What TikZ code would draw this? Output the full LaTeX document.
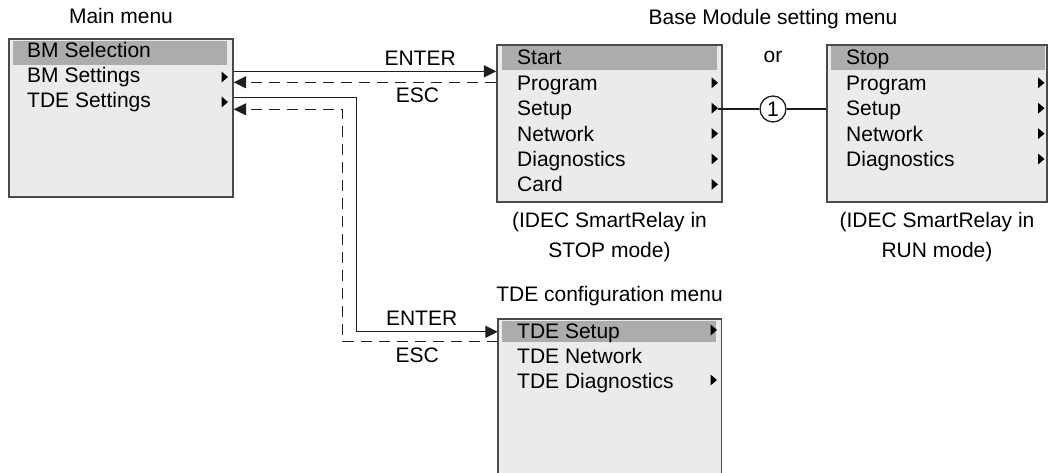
\documentclass[tikz,border=0pt]{standalone}
\usepackage{fontspec}
\setmainfont{Liberation Sans}
\usetikzlibrary{arrows.meta,positioning}

\definecolor{menufill}{HTML}{EBEBED}
\definecolor{menubar}{HTML}{ABACAE}
\definecolor{menuline}{HTML}{4A4A4A}
\definecolor{flowline}{HTML}{1E1E1E}

\tikzset{more/.pic={\fill[black] (-3,-5.5) -- (3.5,0) -- (-3,5.5) -- cycle;}}

\begin{document}
\begin{tikzpicture}[x=1pt, y=-1pt, >={Triangle[length=12.5pt,width=12pt]},
  every node/.style={font=\fontsize{21}{30}\selectfont, inner sep=0pt},
  menubox/.style={fill=menufill, draw=menuline, line width=1.4pt},
  item/.style={anchor=base west},
  flow/.style={draw=flowline, line width=1.3pt, ->},
  back/.style={flow, dash pattern=on 11pt off 7pt}]
  \useasboundingbox (0,0) rectangle (1051,473);

  % menu boxes
  \node[menubox, minimum width=224pt, minimum height=158pt] (mainm) at (121,118) {};
  \node[menubox, minimum width=225pt, minimum height=157pt] (bmm) at (609.5,123.5) {};
  \node[menubox, minimum width=220pt, minimum height=157pt] (runm) at (937,123.5) {};
  \node[fill=menufill, minimum width=223pt, minimum height=154pt] (tdem) at (609.5,396) {};
  \draw[menuline, line width=1.4pt] (tdem.south west) -- (tdem.north west)
    -- (tdem.north east) -- (tdem.south east);

  % selected rows
  \fill[menubar] (13,41) rectangle (227,65);
  \fill[menubar] (502,46) rectangle (717,70);
  \fill[menubar] (831,46) rectangle (1045,70);
  \fill[menubar] (502,321) rectangle (716,342);

  % menu entries
  \foreach \t [count=\i] in {BM Selection, BM Settings, TDE Settings}
    \node[item] (main-\i) at (27,33+25*\i) {\t};
  \foreach \t [count=\i] in {Start, Program, Setup, Network, Diagnostics, Card}
    \node[item] (bm-\i) at (517,39.5+25.4*\i) {\t};
  \foreach \t [count=\i] in {Stop, Program, Setup, Network, Diagnostics}
    \node[item] (run-\i) at (846,39.5+25.4*\i) {\t};
  \foreach \t [count=\i] in {TDE Setup, TDE Network, TDE Diagnostics}
    \node[item] (tde-\i) at (517,313+25*\i) {\t};

  % submenu marks
  \foreach \i in {2,3} \pic at (224.5,27+25*\i) {more};
  \foreach \i in {2,...,6} \pic at (714.5,32+25.4*\i) {more};
  \foreach \i in {2,...,5} \pic at (1041,32+25.4*\i) {more};
  \foreach \i in {1,3} \pic at (713.5,305+25*\i) {more};

  % titles and captions
  \node[above=14pt of mainm] (maintitle) {Main menu};
  \node[anchor=base] (bmtitle) at (773,25) {Base Module setting menu};
  \node[anchor=base] (ortext) at (773,63) {or};
  \node[anchor=base] (tdetitle) at ([yshift=17pt]tdem.north) {TDE configuration menu};
  \node[below=9pt of bmm, align=center] (bmcap) {(IDEC SmartRelay in\\STOP mode)};
  \node[below=9pt of runm, align=center] (runcap) {(IDEC SmartRelay in\\RUN mode)};

  % connectors
  \draw[flow] ([yshift=-33pt]mainm.north east) --
    node[above=5pt, pos=0.71] (enter1) {ENTER} ([yshift=-27pt]bmm.north west);
  \draw[back] ([yshift=-38pt]bmm.north west) --
    node[below=5pt, pos=0.3] (esc1) {ESC} ([yshift=-44pt]mainm.north east);
  \draw[flow] ([yshift=-59pt]mainm.north east) -| ([xshift=-141pt,yshift=-13pt]tdem.north west)
    -- node[above=6pt, pos=0.46] (enter2) {ENTER} ([yshift=-13pt]tdem.north west);
  \draw[back] ([yshift=-23pt]tdem.north west) --
    node[below=5pt, pos=0.52] (esc2) {ESC} ++(-155,0) |- ([yshift=-71pt]mainm.north east);

  \node[circle, draw=flowline, line width=1.3pt, minimum size=26pt] (one) at (773,109) {1};
  \draw[flowline, line width=1.3pt] ([xshift=-5pt]bmm.east |- one) -- (one) -- (runm.west |- one);
\end{tikzpicture}
\end{document}
